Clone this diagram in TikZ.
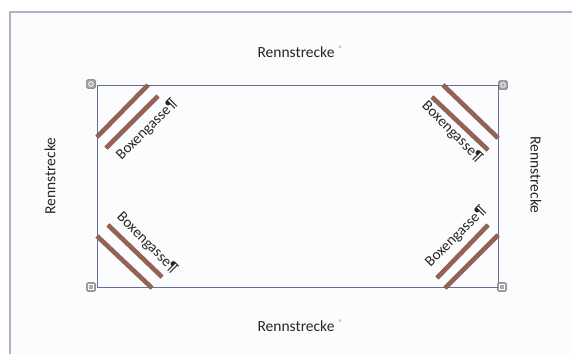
\documentclass[tikz,border=0pt]{standalone}
\usepackage{fontspec}
\setmainfont{Carlito}
\definecolor{framecol}{RGB}{170,180,196}
\definecolor{trackcol}{RGB}{96,112,150}
\definecolor{pitcol}{RGB}{158,96,78}
\definecolor{pitedge}{RGB}{120,105,105}
\definecolor{handlecol}{RGB}{150,150,150}
\begin{document}
\begin{tikzpicture}[x=1pt,y=-1pt,
  lbl/.style={font=\fontsize{15.5}{17}\selectfont, text=black!85, inner sep=0pt},
  pitlbl/.style={font=\fontsize{15}{17}\selectfont, text=black!85, inner sep=0pt},
  lane/.style={line width=4.6pt, draw=pitedge, line cap=butt},
  lanefill/.style={line width=3.2pt, draw=pitcol, line cap=butt},
  handle/.style={draw=handlecol!70!black, fill=handlecol!80, rounded corners=1pt, minimum size=8.5pt, inner sep=0pt, line width=0.6pt},
  degmark/.style={font=\fontsize{8}{9}\selectfont, text=black!40, inner sep=0pt}]
\useasboundingbox (0,0) rectangle (572,354);
\fill[white] (0,0) rectangle (572,354);
\fill[blue!1] (10,12) rectangle (572,354);
\draw[framecol, line width=2pt] (10,354) -- (10,12) -- (572,12);
% track rectangle
\node[draw=trackcol, line width=0.9pt, minimum width=401pt, minimum height=202pt, inner sep=0pt] (track) at (297.5,186) {};
% handles
\node[handle] (h1) at (91,84) {};
\node[handle] (h2) at (503,85) {};
\node[handle] (h3) at (91,287) {};
\node[handle] (h4) at (502,287) {};
\draw[white, line width=0.7pt] (h1) circle (2.3pt);
\draw[white, line width=0.7pt] (h2) circle (2.3pt);
\draw[white, line width=0.7pt] ([shift={(-2.2pt,-2.2pt)}]h3.center) rectangle ([shift={(2.2pt,2.2pt)}]h3.center);
\draw[white, line width=0.7pt] ([shift={(-2.2pt,-2.2pt)}]h4.center) rectangle ([shift={(2.2pt,2.2pt)}]h4.center);
% labels Rennstrecke
\node[lbl] (top) at (296,52) {Rennstrecke};
\node[degmark, anchor=north west] (topm) at ([xshift=4pt,yshift=1pt]top.north east) {°};
\node[lbl] (bot) at (296,326) {Rennstrecke};
\node[degmark, anchor=north west] (botm) at ([xshift=4pt,yshift=1pt]bot.north east) {°};
\node[lbl, rotate=90] (left) at (50,176) {Rennstrecke};
\node[lbl, rotate=-90] (right) at (536,175) {Rennstrecke};
% pit lanes: top-left
\coordinate (a1) at (97,137); \coordinate (a2) at (148,85);
\coordinate (b1) at (106,148); \coordinate (b2) at (158,96);
% top-right
\coordinate (c1) at (443,85); \coordinate (c2) at (498,138);
\coordinate (d1) at (432,97); \coordinate (d2) at (488,150);
% bottom-left
\coordinate (e1) at (97,236); \coordinate (e2) at (152,288);
\coordinate (f1) at (108,225); \coordinate (f2) at (162,277);
% bottom-right
\coordinate (g1) at (445,288); \coordinate (g2) at (498,235);
\coordinate (k1) at (437,278); \coordinate (k2) at (488,225);
\foreach \p/\q in {a1/a2,b1/b2,c1/c2,d1/d2,e1/e2,f1/f2,g1/g2,k1/k2}{
  \draw[lane] (\p) -- (\q);
  \draw[lanefill] (\p) -- (\q);
}
\node[pitlbl, rotate=45] (p1) at (147,130) {Boxengasse¶};
\node[pitlbl, rotate=-45] (p2) at (452,132) {Boxengasse¶};
\node[pitlbl, rotate=-45] (p3) at (147,243) {Boxengasse¶};
\node[pitlbl, rotate=45] (p4) at (456,237) {Boxengasse¶};
\end{tikzpicture}
\end{document}
